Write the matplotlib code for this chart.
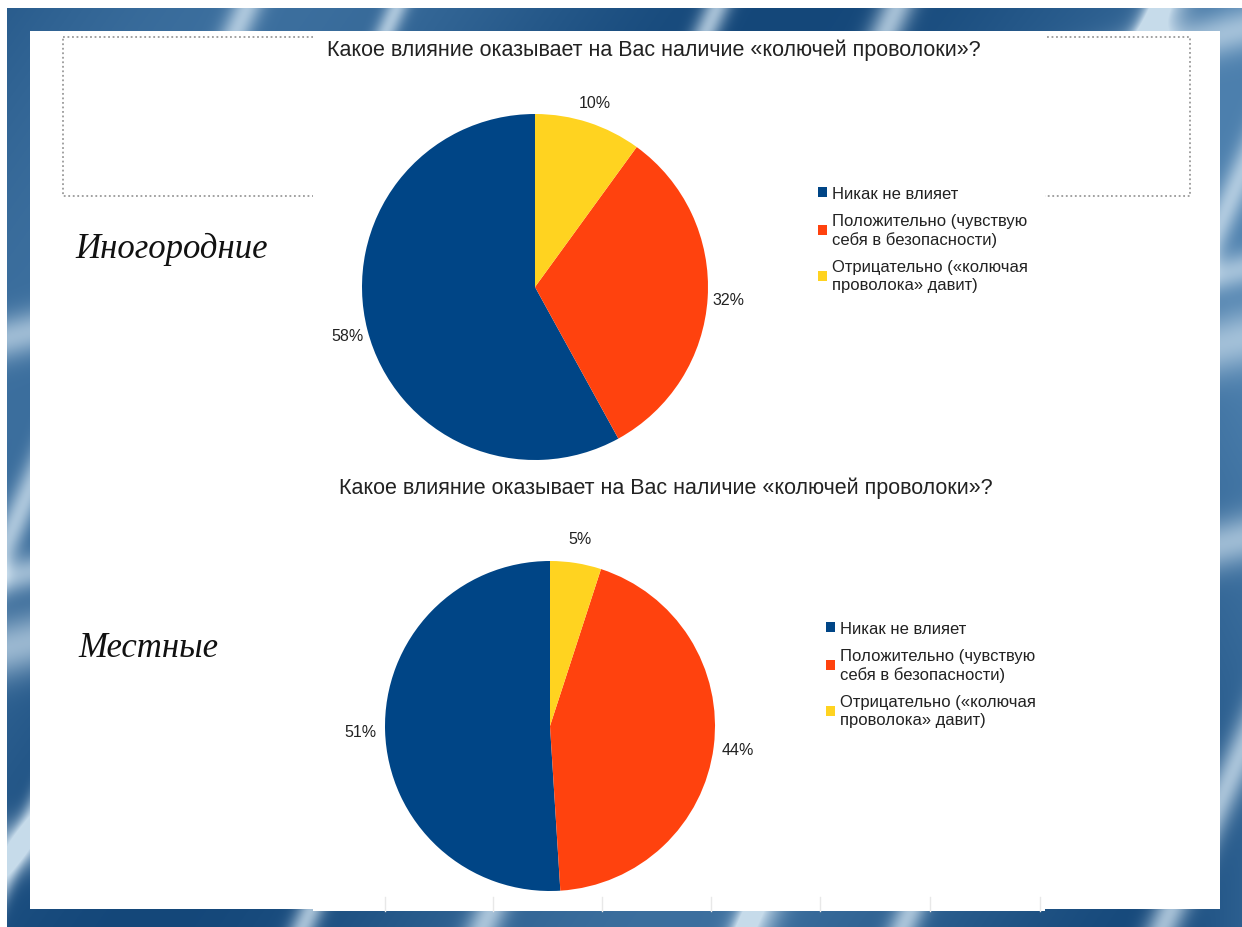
import numpy as np
import matplotlib.pyplot as plt
from matplotlib.patches import Rectangle

W, H = 1242, 928

question = 'Какое влияние оказывает на Вас наличие «колючей проволоки»?'
groups = ['Иногородние', 'Местные']
categories = ['Никак не влияет',
              'Положительно (чувствую\nсебя в безопасности)',
              'Отрицательно («колючая\nпроволока» давит)']
nonresident = [58, 32, 10]
local = [51, 44, 5]
colors = ['#004586', '#ff420e', '#ffd320']

plt.rcParams['font.family'] = ['Liberation Sans', 'DejaVu Sans']

fig = plt.figure(figsize=(W / 100, H / 100), dpi=100)


def slide_background():
    # blue slide with a few soft light swooshes
    yy, xx = np.mgrid[0:H, 0:W].astype(float)
    shade = 0.45 + 0.3 * np.sin(xx / 170.0 + yy / 240.0)
    shade += 0.35 * np.clip((xx - 1150) / 90.0, 0, 1)
    streak = np.zeros((H, W))
    for c, w in [(230, 16), (380, 12), (700, 14), (880, 18), (1150, 22)]:
        streak += 0.8 * np.exp(-((xx + 0.45 * yy - c - 20) / w) ** 2)
    for c, w in [(1180, 18), (1320, 14), (760, 12), (920, 16), (1500, 20)]:
        streak += 0.8 * np.exp(-((xx + 0.45 * yy - c - 400) / w) ** 2)
    for c, w in [(340, 22), (580, 18), (650, 30), (850, 25)]:
        streak += 0.7 * np.exp(-((yy + 0.25 * xx - c) / w) ** 2)
    streak = np.clip(streak, 0, 1)
    dark = np.array([0.04, 0.24, 0.44])
    mid = np.array([0.30, 0.50, 0.68])
    light = np.array([0.78, 0.86, 0.92])
    img = dark + np.clip(shade, 0, 1)[..., None] * (mid - dark)
    img = img + streak[..., None] * (light - img)
    return np.clip(img, 0, 1)


bg = fig.add_axes([0, 0, 1, 1])
bg.imshow(slide_background(), extent=(0, W, H, 0), aspect='auto')
bg.set_xlim(0, W)
bg.set_ylim(H, 0)
bg.axis('off')

bg.add_patch(Rectangle((0, 0), W, 9, fc='white', ec='none'))
bg.add_patch(Rectangle((0, 0), 7, H, fc='white', ec='none'))
bg.add_patch(Rectangle((30, 32), 1190, 878, fc='white', ec='none'))
bg.add_patch(Rectangle((63, 38), 1127, 159, fill=False, ec='#9a9a9a',
                       ls=(0, (1, 1.5)), lw=1.3))
bg.add_patch(Rectangle((313, 36), 732, 434, fc='white', ec='none'))
bg.add_patch(Rectangle((313, 470), 732, 442, fc='white', ec='none'))
for x in [385, 493, 602, 711, 820, 930, 1040]:
    bg.plot([x, x], [898, 912], color='#e8e8e8', lw=1)

charts = [
    (nonresident, (535, 288, 173), (654, 50), (75, 249), (818, 187), 1.12),
    (local, (550, 727, 165), (666, 488), (78, 649), (826, 622), 1.15),
]

for i, (vals, (cx, cy, r), tpos, gpos, lpos, pd) in enumerate(charts):
    bg.text(tpos[0], tpos[1], question, ha='center', va='center',
            fontsize=15.5, color='#222222')
    bg.text(gpos[0], gpos[1], groups[i], ha='left', va='center',
            fontsize=25, style='italic', family='Liberation Serif',
            color='#111111')
    ax = fig.add_axes([(cx - r) / W, 1 - (cy + r) / H, 2 * r / W, 2 * r / H])
    wedges, _, pcts = ax.pie(vals, colors=colors, startangle=90,
                             counterclock=True, autopct='%.0f%%',
                             pctdistance=pd,
                             textprops={'fontsize': 11.5, 'color': '#222222'})
    ax.set_xlim(-1, 1)
    ax.set_ylim(-1, 1)
    leg = ax.legend(wedges, categories, loc='upper left',
                    bbox_to_anchor=(lpos[0] / W, 1 - lpos[1] / H),
                    bbox_transform=fig.transFigure, frameon=False,
                    fontsize=12, handlelength=0.55, handleheight=0.55,
                    handletextpad=0.3, labelspacing=0.75, borderpad=0,
                    borderaxespad=0, labelcolor='#222222')
    for t in leg.get_texts():
        t.set_linespacing(1.2)

fig.savefig('out.png', dpi=100)
